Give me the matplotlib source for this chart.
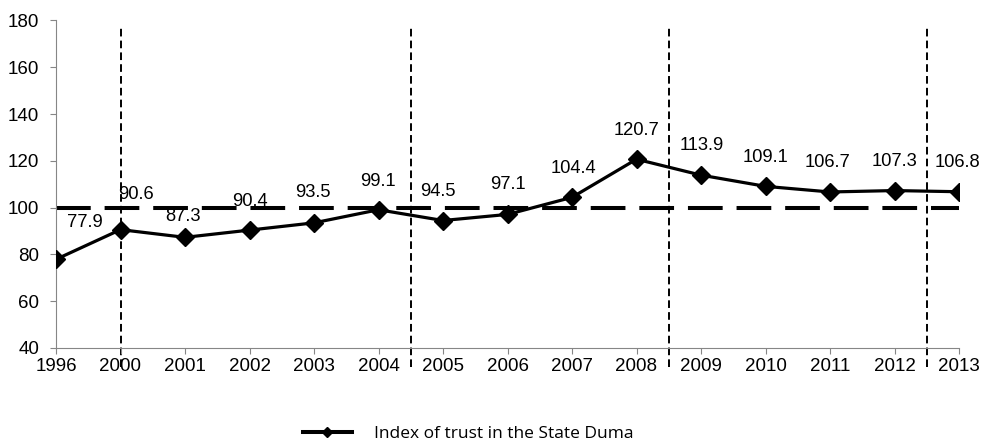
import matplotlib.pyplot as plt
import numpy as np

plt.rcParams['font.family'] = ['Liberation Sans', 'DejaVu Sans']
plt.rcParams['lines.scale_dashes'] = False

# data
years = ['1996', '2000', '2001', '2002', '2003', '2004', '2005', '2006',
         '2007', '2008', '2009', '2010', '2011', '2012', '2013']
trust = [77.9, 90.6, 87.3, 90.4, 93.5, 99.1, 94.5, 97.1,
         104.4, 120.7, 113.9, 109.1, 106.7, 107.3, 106.8]
baseline = 100
# vertical separators (category index positions)
separators = [1, 5.5, 9.5, 13.5]

# label offsets in pixels (dx, dy)
lbl_off = [(29, 37), (15, 35), (-2, 21), (0, 29), (-1, 30), (-1, 28), (-5, 29),
           (0, 30), (1, 29), (0, 29), (1, 30), (0, 29), (-2, 29), (0, 29), (-2, 29)]

fig = plt.figure(figsize=(9.82, 4.45), dpi=100)
ax = fig.add_axes([56/982, 1-348/445, (959-56)/982, (348-20.5)/445])

x = np.arange(len(years))
grey = '#868686'

ax.plot([0, len(years)-1], [baseline, baseline], color='black', lw=2.9,
        dashes=(25, 10), solid_capstyle='butt', dash_capstyle='butt', zorder=2)

for s in separators:
    ax.plot([s, s], [32, 177.2], color='black', lw=1.4, dashes=(5.5, 3),
            clip_on=False, zorder=1)

ax.plot(x, trust, color='black', lw=2.3, marker='D', markersize=9.5,
        zorder=3, label='Index of trust in the State Duma')

for i, v in enumerate(trust):
    ax.annotate(f'{v:.1f}', (x[i], v), xytext=lbl_off[i], textcoords='offset pixels',
                ha='center', va='center', fontsize=13.2)

ax.set_xlim(0, len(years)-1)
ax.set_ylim(40, 180)
ax.set_yticks(range(40, 181, 20))
ax.set_xticks(x)
ax.set_xticklabels(years)
ax.tick_params(axis='both', labelsize=13.5, color=grey, length=4)
ax.tick_params(axis='y', pad=8)
ax.tick_params(axis='x', pad=3)
for sp in ['top', 'right']:
    ax.spines[sp].set_visible(False)
for sp in ['left', 'bottom']:
    ax.spines[sp].set_color(grey)

leg_line = plt.Line2D([], [], color='black', lw=2.9, marker='D', markersize=5.5)
fig.legend([leg_line], ['Index of trust in the State Duma'], loc='center',
           bbox_to_anchor=(0.477, 0.024), frameon=False, handlelength=2.8,
           handletextpad=1.3, prop={'family': 'Open Sans', 'size': 12.5})

fig.savefig('out.png', dpi=100)
